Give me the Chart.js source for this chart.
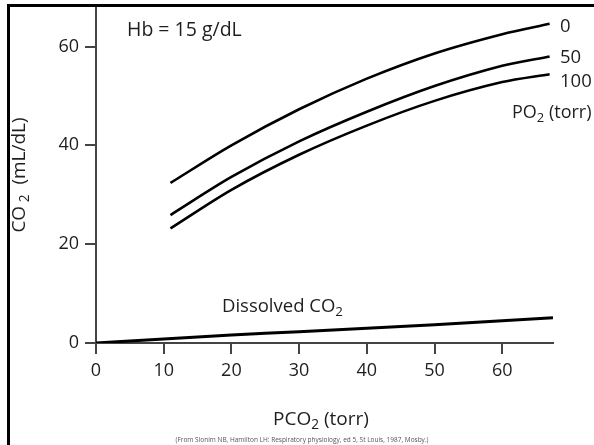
<!DOCTYPE html>
<html>
<head>
<meta charset="utf-8">
<script src="https://cdn.jsdelivr.net/npm/chart.js@4/dist/chart.umd.min.js"></script>
<style>
  html, body { margin: 0; padding: 0; background: #fff; }
  #c { display: block; }
</style>
</head>
<body>
<canvas id="c" width="594" height="445"></canvas>
<script>
// ---- Data ----
const pco2 = [11, 20, 30, 40, 50, 60, 67];
const co2Po2_0 = [32.4, 40.0, 47.3, 53.5, 58.6, 62.5, 64.6];
const co2Po2_50 = [25.9, 33.6, 40.8, 46.8, 52.0, 56.1, 58.0];
const co2Po2_100 = [23.2, 31.0, 38.1, 44.0, 49.0, 52.8, 54.4];
const dissolvedPco2 = [0, 10, 20, 30, 40, 50, 60, 67.5];
const dissolvedCo2 = [0, 0.8, 1.6, 2.3, 3.0, 3.7, 4.5, 5.1];
const xTicks = [0, 10, 20, 30, 40, 50, 60];
const yTicks = [0, 20, 40, 60];
const po2Labels = ['0', '50', '100'];

const FONT = '"Open Sans", "Noto Sans", sans-serif';
const TEXT = '#1e1e1e';

function pts(xs, ys) { return xs.map((x, i) => ({ x: x, y: ys[i] })); }

function lineDs(label, data, width) {
  return {
    label: label, data: data, showLine: true,
    borderColor: '#000', borderWidth: width, pointRadius: 0,
    tension: 0.3, fill: false
  };
}

// draw text with subscript segments: segs = [[text, isSub], ...]
function richText(ctx, segs, x, y, size) {
  let cx = x;
  segs.forEach(([t, sub]) => {
    const s = sub ? size * 0.72 : size;
    ctx.font = s + 'px ' + FONT;
    ctx.fillText(t, cx, y + (sub ? size * 0.28 : 0));
    cx += ctx.measureText(t).width;
  });
  return cx - x;
}
function richWidth(ctx, segs, size) {
  let w = 0;
  segs.forEach(([t, sub]) => {
    ctx.font = (sub ? size * 0.72 : size) + 'px ' + FONT;
    w += ctx.measureText(t).width;
  });
  return w;
}

const textPlugin = {
  id: 'texts',
  afterDraw(chart) {
    const ctx = chart.ctx;
    ctx.save();
    // frame (top and left)
    ctx.fillStyle = '#000';
    ctx.fillRect(7, 4, 594 - 7, 3);
    ctx.fillRect(7, 4, 3, 445 - 4);

    ctx.fillStyle = TEXT;
    ctx.textBaseline = 'middle';
    ctx.textAlign = 'left';

    richText(ctx, [['Hb = 15 g/dL', false]], 127, 30, 19.5);

    const ends = [[po2Labels[0], 27], [po2Labels[1], 58], [po2Labels[2], 82]];
    ends.forEach(([t, y]) => richText(ctx, [[t, false]], 560, y, 18.5));

    richText(ctx, [['PO', false], ['2', true], [' (torr)', false]], 512, 113, 18);
    richText(ctx, [['Dissolved CO', false], ['2', true]], 222, 307, 18.5);
    richText(ctx, [['PCO', false], ['2', true], [' (torr)', false]], 273, 420, 19);

    // y-axis title rotated
    const ySegs = [['CO', false], [' 2', true], ['  (mL/dL)', false]];
    const yw = richWidth(ctx, ySegs, 19);
    ctx.save();
    ctx.translate(20, 175);
    ctx.rotate(-Math.PI / 2);
    richText(ctx, ySegs, -yw / 2, 0, 19);
    ctx.restore();

    // footnote
    ctx.fillStyle = '#555';
    ctx.textAlign = 'center';
    ctx.font = '6.5px ' + FONT;
    ctx.fillText('(From Slonim NB, Hamilton LH: Respiratory physiology, ed 5, St Louis, 1987, Mosby.)', 302, 440);
    ctx.restore();
  }
};

new Chart(document.getElementById('c'), {
  type: 'scatter',
  data: {
    datasets: [
      lineDs('PO2 0', pts(pco2, co2Po2_0), 2.6),
      lineDs('PO2 50', pts(pco2, co2Po2_50), 2.6),
      lineDs('PO2 100', pts(pco2, co2Po2_100), 2.6),
      lineDs('Dissolved CO2', pts(dissolvedPco2, dissolvedCo2), 3)
    ]
  },
  options: {
    responsive: false,
    animation: false,
    layout: { padding: { top: 7, right: 41, left: 0, bottom: 0 } },
    plugins: { legend: { display: false }, tooltip: { enabled: false } },
    scales: {
      x: {
        type: 'linear', min: 0, max: 67.5,
        afterBuildTicks: s => { s.ticks = xTicks.map(v => ({ value: v })); },
        afterFit: s => { s.height = 102; s.paddingLeft = 0; s.paddingRight = 0; },
        grid: { drawOnChartArea: false, drawTicks: true, tickLength: 11, color: '#444', lineWidth: 2 },
        border: { display: true, color: '#444', width: 2 },
        ticks: { color: TEXT, font: { family: FONT, size: 18 }, padding: 6, maxRotation: 0 }
      },
      y: {
        type: 'linear', min: 0, max: 68,
        afterBuildTicks: s => { s.ticks = yTicks.map(v => ({ value: v })); },
        afterFit: s => { s.width = 96; s.paddingTop = 0; s.paddingBottom = 0; },
        grid: { drawOnChartArea: false, drawTicks: true, tickLength: 11, color: '#444', lineWidth: 2 },
        border: { display: true, color: '#444', width: 2 },
        ticks: { color: TEXT, font: { family: FONT, size: 18 }, padding: 6 }
      }
    }
  },
  plugins: [textPlugin]
});
</script>
</body>
</html>
